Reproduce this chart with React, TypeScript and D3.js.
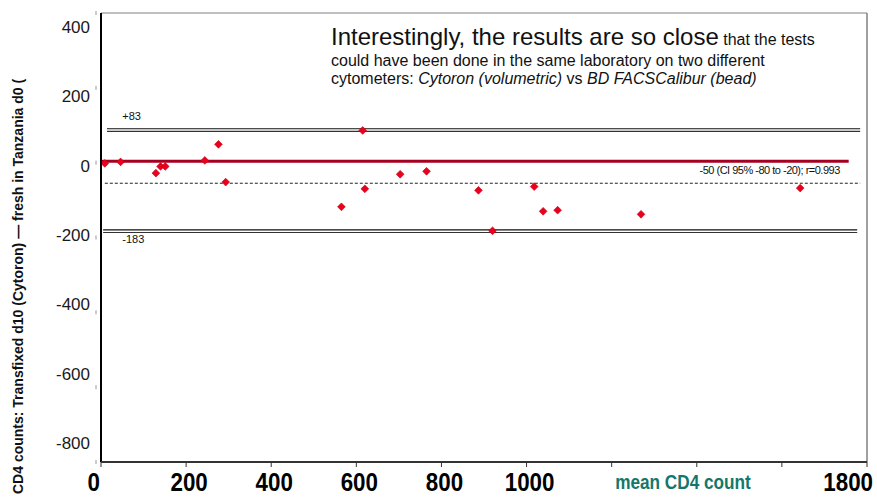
import * as d3 from "d3";
import * as React from "react";

// Bland-Altman style plot: difference vs mean CD4 count
const meanCount = [9, 46, 129, 140, 151, 244, 276, 293, 565, 615, 620, 703, 765, 887, 920, 1018, 1039, 1073, 1269, 1643];
const difference = [-2, 2, -28, -10, -10, 6, 49, -52, -118, 86, -70, -31, -23, -74, -182, -64, -130, -127, -138, -68];

const xTicks = [0, 200, 400, 600, 800, 1000, 1200, 1400, 1600, 1800];
const xTickLabels = ["0", "200", "400", "600", "800", "1000", "", "", "", "1800"];
const yTicks = [400, 200, 0, -200, -400, -600, -800];

const upperLimit = 87;
const lowerLimit = -183;
const meanDiff = -55;
const zeroLine = 4;

const upperLabel = "+83";
const lowerLabel = "-183";
const meanLabel = "-50 (CI 95% -80 to -20); r=0.993";

const width = 877;
const height = 498;
const margin = { top: 13, right: 10, bottom: 36, left: 101 };

export default function App() {
  const x = d3
    .scaleLinear()
    .domain([0, 1800])
    .range([margin.left, width - margin.right]);
  const y = d3
    .scaleLinear()
    .domain([-800, 400])
    .range([height - margin.bottom, margin.top]);
  // Excel spread its tick labels a little differently from the ticks
  const yLabel = d3.scaleLinear().domain([-800, 400]).range([443, 27]);

  const marker = d3.symbol().type(d3.symbolSquare).size(30);
  const font = "'Liberation Sans', Arial, sans-serif";

  const x0 = x(0);
  const x1 = x(1800);
  const y0 = y(-800);
  const y1 = y(400);

  const doubleLine = (v: number, from: number, to: number) => (
    <g>
      <line x1={x(from)} x2={x(to)} y1={y(v) - 1.3} y2={y(v) - 1.3} stroke="#111" strokeWidth={1.1} />
      <line x1={x(from)} x2={x(to)} y1={y(v) + 1.3} y2={y(v) + 1.3} stroke="#333" strokeWidth={1.1} />
    </g>
  );

  return (
    <svg
      width={width}
      height={height}
      style={{ position: "absolute", left: 0, top: 0, background: "#fff" }}
      fontFamily={font}
    >
      {/* frame */}
      <line x1={x0} x2={x1} y1={y1} y2={y1} stroke="#808080" strokeWidth={1} />
      <line x1={x1} x2={x1} y1={y1} y2={y0} stroke="#808080" strokeWidth={1.5} />

      {/* reference lines */}
      {doubleLine(upperLimit, 14, 1784)}
      {doubleLine(lowerLimit, 5, 1777)}
      <line
        x1={x(9)}
        x2={x(1784)}
        y1={y(meanDiff)}
        y2={y(meanDiff)}
        stroke="#222"
        strokeWidth={1}
        strokeDasharray="3,2"
      />
      <line x1={x(0)} x2={x(1757)} y1={y(zeroLine)} y2={y(zeroLine)} stroke="#a50021" strokeWidth={3} />

      <text x={x(50)} y={y(upperLimit) - 10} fontSize={11} fill="#111">
        {upperLabel}
      </text>
      <text x={x(50)} y={y(lowerLimit) + 12} fontSize={11} fill="#111">
        {lowerLabel}
      </text>
      <text
        x={x(1736)}
        y={y(meanDiff) - 9}
        fontSize={11}
        fill="#111"
        textAnchor="end"
        letterSpacing={-0.5}
      >
        {meanLabel}
      </text>

      {/* points */}
      {meanCount.map((m, i) => (
        <path
          key={i}
          d={marker() as string}
          transform={`translate(${x(m)},${y(difference[i])}) rotate(45)`}
          fill="#e8001c"
          stroke="#c80018"
          strokeWidth={0.6}
        />
      ))}

      {/* axes */}
      <line x1={x0} x2={x0} y1={y1} y2={y0} stroke="#000" strokeWidth={2} />
      <line x1={x0} x2={x1} y1={y0} y2={y0} stroke="#333" strokeWidth={2} />

      {yTicks.map((t) => (
        <g key={t}>
          <line x1={x0 - 5} x2={x0 - 5} y1={y(t) - 2} y2={y(t) + 2} stroke="#999" strokeWidth={1} />
          <text
            x={90}
            y={yLabel(t)}
            dy="0.35em"
            fontSize={17}
            textAnchor="end"
            fill="#1a1a1a"
          >
            {t}
          </text>
        </g>
      ))}

      {xTicks.map((t, i) => {
        const last = i === xTicks.length - 1;
        const lx = i === 0 ? x(t) - 1 : last ? x(t) + 6 : x(t) + 3;
        return (
          <g key={t}>
            <line x1={x(t)} x2={x(t)} y1={y0} y2={y0 + 5} stroke="#333" strokeWidth={1} />
            {xTickLabels[i] && (
              <text
                transform={`translate(${lx},491) scale(0.86,1)`}
                fontSize={26}
                fontWeight="bold"
                textAnchor={i === 0 || last ? "end" : "middle"}
                fill="#000"
              >
                {xTickLabels[i]}
              </text>
            )}
          </g>
        );
      })}

      <text
        transform="translate(683,489) scale(0.86,1)"
        fontSize={20}
        fontWeight="bold"
        textAnchor="middle"
        fill="#14776b"
      >
        mean CD4 count
      </text>

      <text
        transform={`translate(23,494) rotate(-90)`}
        fontSize={14}
        fontWeight="bold"
        fill="#111"
      >
        CD4 counts: Transfixed d10 (Cytoron) — fresh in Tanzania d0 (
      </text>

      {/* annotation */}
      <text x={331} y={45} fill="#111">
        <tspan fontSize={24}>Interestingly, the results are so close</tspan>
        <tspan fontSize={16}> that the tests</tspan>
      </text>
      <text x={331} y={66} fontSize={16} fill="#111">
        could have been done in the same laboratory on two different
      </text>
      <text x={331} y={84} fontSize={16} fill="#111">
        cytometers: <tspan fontStyle="italic">Cytoron (volumetric)</tspan> vs{" "}
        <tspan fontStyle="italic">BD FACSCalibur (bead)</tspan>
      </text>
    </svg>
  );
}
